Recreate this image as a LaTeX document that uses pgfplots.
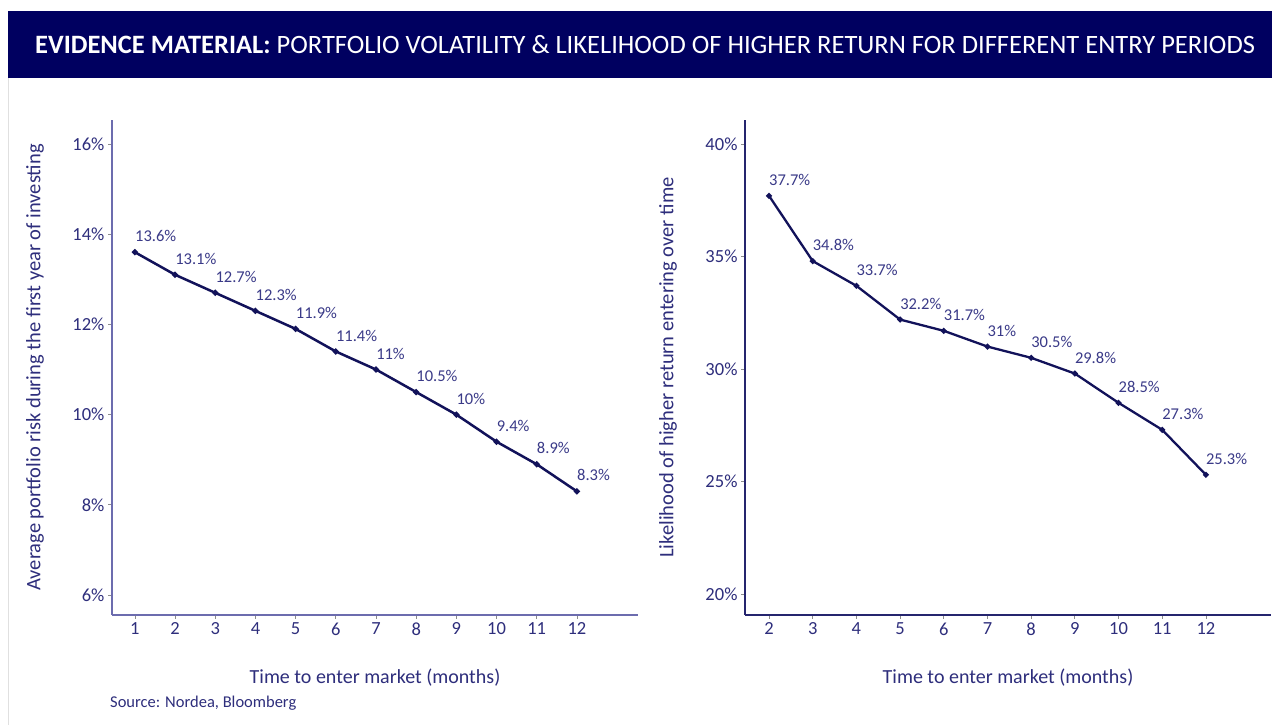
\documentclass[border=0pt]{standalone}
\usepackage{fontspec}
\setmainfont{Carlito}
\usepackage{pgfplots}
\pgfplotsset{compat=1.18}
\definecolor{banner}{HTML}{000060}
\definecolor{txt}{HTML}{2E2E7C}
\definecolor{lbl}{HTML}{3A3A88}
\definecolor{dataline}{HTML}{12125A}
\definecolor{axisL}{HTML}{6C6CAE}
\definecolor{axisR}{HTML}{25256E}

\pgfplotsset{
  panel/.style={
    scale only axis,
    width=526pt, height=495pt,
    anchor=south west,
    axis lines*=left,
    axis line style={-, line width=1.6pt},
    tick align=outside,
    major tick length=4pt,
    ticklabel style={font=\fontsize{18.5}{20}\selectfont, text=txt},
    /pgf/number format/assume math mode=true,
    yticklabel={\pgfmathprintnumber{\tick}\%},
    xtick={1,...,12},
    xtick style={draw=black!45, line width=0.8pt},
    ytick style={draw=black!45, line width=0.8pt},
    xlabel style={font=\fontsize{20}{22}\selectfont, text=txt,
      at={(axis description cs:0.5,-0.1273)}, anchor=center},
    ylabel style={font=\fontsize{20.5}{23}\selectfont, text=txt,
      at={(axis description cs:-0.1464,0.5)}, anchor=center},
    nodes near coords={\pgfmathprintnumber{\pgfplotspointmeta}\%},
    point meta=y,
    every node near coord/.style={font=\fontsize{16.5}{18}\selectfont, text=lbl,
      anchor=south west, inner sep=0pt, xshift=-1pt, yshift=9pt},
  },
}

\begin{document}
\begin{tikzpicture}
\useasboundingbox (0pt,0pt) rectangle (1274pt,725pt);
\fill[white] (0pt,0pt) rectangle (1274pt,725pt);
\draw[black!12, line width=1pt] (8pt,647pt) -- (8pt,0pt);
\fill[banner] (8pt,647pt) rectangle (1272pt,714pt);
\node[anchor=west, text=white, font=\fontsize{26.5}{30}\selectfont, inner sep=0pt]
  at (35pt,680pt) {\textbf{EVIDENCE MATERIAL:} PORTFOLIO VOLATILITY \& LIKELIHOOD OF HIGHER RETURN FOR DIFFERENT ENTRY PERIODS};

\begin{axis}[panel,
  at={(112pt,110pt)},
  xmin=0.43, xmax=13.52,
  ymin=5.56, ymax=16.53,
  ytick={6,8,...,16},
  axis line style={draw=axisL},
  xlabel={Time to enter market (months)},
  ylabel={Average portfolio risk during the first year of investing},
]
\addplot[dataline, line width=2.5pt, mark=*, mark size=1.6pt] coordinates {
(1,13.6) (2,13.1) (3,12.7) (4,12.3) (5,11.9) (6,11.4)
(7,11) (8,10.5) (9,10) (10,9.4) (11,8.9) (12,8.3)};
\end{axis}

\begin{axis}[panel,
  at={(745pt,110pt)},
  xmin=1.45, xmax=13.49,
  xtick={2,...,12},
  ymin=19.07, ymax=41.07,
  ytick={20,25,...,40},
  axis line style={draw=axisR},
  xlabel={Time to enter market (months)},
  ylabel={Likelihood of higher return entering over time},
]
\addplot[dataline, line width=2.3pt, mark=*, mark size=1.6pt] coordinates {
(2,37.7) (3,34.8) (4,33.7) (5,32.2) (6,31.7) (7,31)
(8,30.5) (9,29.8) (10,28.5) (11,27.3) (12,25.3)};
\end{axis}

\node[anchor=west, text=txt, font=\fontsize{16.5}{18}\selectfont, inner sep=0pt]
  at (110pt,22pt) {Source: Nordea, Bloomberg};
\end{tikzpicture}
\end{document}
